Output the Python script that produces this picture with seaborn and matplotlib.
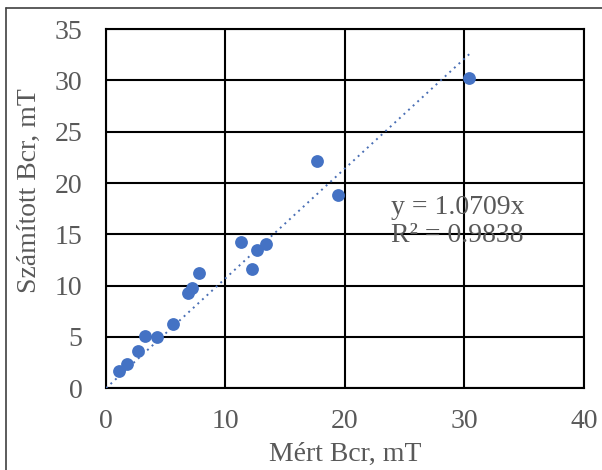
import matplotlib
matplotlib.use("Agg")
import matplotlib.pyplot as plt
from matplotlib.lines import Line2D
import seaborn as sns
import numpy as np
import pandas as pd

# Measured vs. calculated critical field (mT)
mert_bcr = [1.1, 1.8, 2.7, 3.3, 4.3, 5.6, 6.9, 7.2, 7.8, 11.3, 12.2, 12.6, 13.4, 17.7, 19.4, 30.4]
szamitott_bcr = [1.7, 2.4, 3.6, 5.1, 5.0, 6.3, 9.3, 9.8, 11.2, 14.3, 11.6, 13.5, 14.1, 22.1, 18.8, 30.2]
slope = 1.0709
r_squared = 0.9838
x_ticks = [0, 10, 20, 30, 40]
y_ticks = [0, 5, 10, 15, 20, 25, 30, 35]

df = pd.DataFrame({"mert": mert_bcr, "szamitott": szamitott_bcr})
trend = pd.DataFrame({"x": [0.0, max(mert_bcr)]})
trend["y"] = slope * trend["x"]

sns.set_theme(style="white")
plt.rcParams["font.family"] = ["Liberation Serif", "DejaVu Serif"]

fig = plt.figure(figsize=(6.02, 4.70), dpi=100)
ax = fig.add_axes([0.176, 0.174, 0.794, 0.764])

blue = "#4472C4"
sns.scatterplot(data=df, x="mert", y="szamitott", ax=ax, color=blue, s=85,
                edgecolor=blue, linewidth=0, zorder=4)
sns.lineplot(data=trend, x="x", y="y", ax=ax, color="#4A6FB5", linestyle=(0, (1, 2.2)),
             linewidth=1.4, zorder=3)

ax.set_xlim(0, 40)
ax.set_ylim(0, 35)
ax.set_xticks(x_ticks)
ax.set_yticks(y_ticks)
ax.grid(True, color="black", linewidth=1.5)
ax.set_axisbelow(True)
for sp in ax.spines.values():
    sp.set_color("black")
    sp.set_linewidth(1.5)

grey = "#595959"
fs = 20
ax.tick_params(axis="both", length=0, labelsize=fs, labelcolor=grey)
ax.tick_params(axis="y", pad=17)
ax.tick_params(axis="x", pad=15)
ax.set_xlabel("Mért Bcr, mT", fontsize=fs, color=grey, labelpad=6)
ax.set_ylabel("Számított Bcr, mT", fontsize=fs, color=grey)
ax.yaxis.set_label_coords(-0.135, 0.55)

ax.text(0.596, 0.504, f"y = {slope}x", transform=ax.transAxes,
        fontsize=fs, color=grey, ha="left", va="center", zorder=5)
ax.text(0.596, 0.426, f"R² = {r_squared}", transform=ax.transAxes,
        fontsize=fs, color=grey, ha="left", va="center", zorder=5)

# Chart area frame (left and top edges)
fig.add_artist(Line2D([6 / 602, 6 / 602], [0, 1 - 8 / 470], transform=fig.transFigure,
                      color="#404040", linewidth=1.2))
fig.add_artist(Line2D([6 / 602, 1], [1 - 8 / 470, 1 - 8 / 470], transform=fig.transFigure,
                      color="#404040", linewidth=1.2))

fig.savefig("out.png", dpi=100, facecolor="white")
